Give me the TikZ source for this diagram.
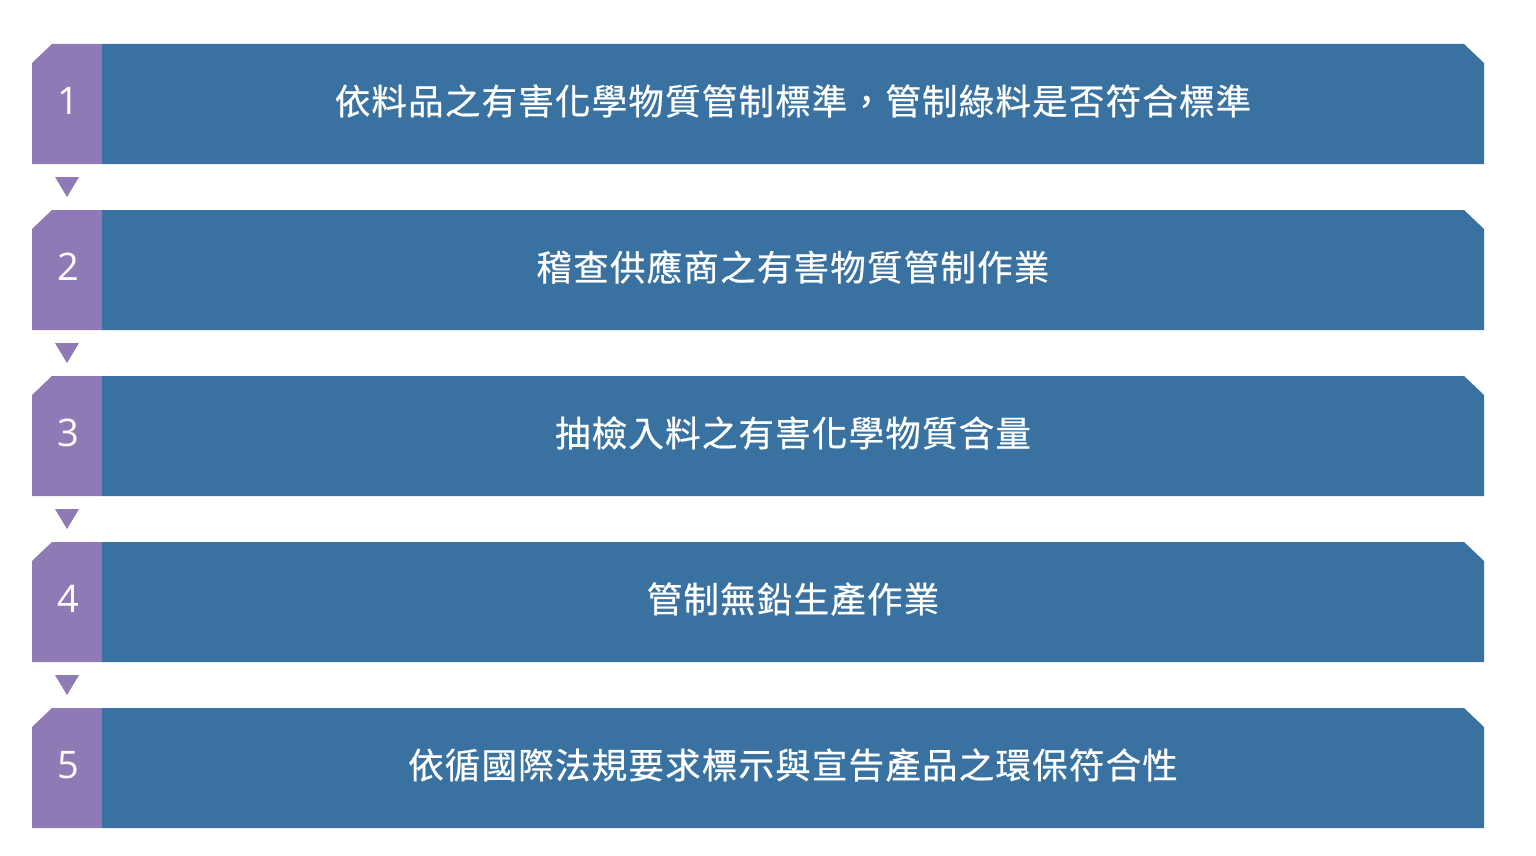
\documentclass[tikz,border=0pt]{standalone}
\usepackage{fontspec}
\setmainfont{Open Sans}
\newfontfamily\cjk[LetterSpace=3.4,FakeBold=0.6]{Noto Sans CJK TC}
\definecolor{bandblue}{RGB}{57,114,161}
\definecolor{bandpurple}{RGB}{142,122,181}
\begin{document}
\begin{tikzpicture}[x=1pt,y=-1pt,
  numtxt/.style={text=white,font=\fontsize{38}{40}\selectfont,inner sep=0pt},
  steptxt/.style={text=white,font=\cjk\fontsize{35.5}{40}\selectfont,inner sep=0pt},
  arrowtri/.style={fill=bandpurple}]
\useasboundingbox (0,0) rectangle (1536,856);
\foreach \i/\t in {0/{依料品之有害化學物質管制標準，管制綠料是否符合標準},
                  1/{稽查供應商之有害物質管制作業},
                  2/{抽檢入料之有害化學物質含量},
                  3/{管制無鉛生產作業},
                  4/{依循國際法規要求標示與宣告產品之環保符合性}}{
  \pgfmathsetmacro{\yt}{44+166*\i}
  \pgfmathsetmacro{\yb}{\yt+120}
  \pgfmathsetmacro{\yc}{\yt+19}
  \pgfmathsetmacro{\ym}{\yt+57}
  \fill[bandpurple] (32,\yc) -- (52,\yt) -- (102,\yt) -- (102,\yb) -- (32,\yb) -- cycle;
  \fill[bandblue] (102,\yt) -- (1464,\yt) -- (1484,\yc) -- (1484,\yb) -- (102,\yb) -- cycle;
  \pgfmathtruncatemacro{\n}{\i+1}
  \node[numtxt] (n\n) at (68,\ym) {\n};
  \node[steptxt] (t\n) at (793,\ym) {\t};
}
\foreach \i in {0,1,2,3}{
  \pgfmathsetmacro{\ya}{177+166*\i}
  \pgfmathsetmacro{\yp}{\ya+20}
  \fill[arrowtri] (55,\ya) -- (79,\ya) -- (67,\yp) -- cycle;
}
\end{tikzpicture}
\end{document}
